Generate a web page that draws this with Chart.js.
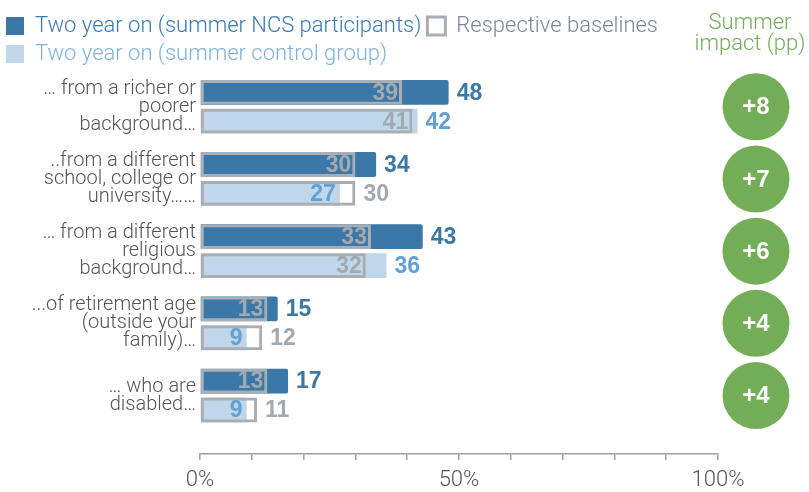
<!DOCTYPE html>
<html>
<head>
<meta charset="utf-8">
<script src="https://cdn.jsdelivr.net/npm/chart.js@4"></script>
<style>
  html, body { margin: 0; padding: 0; background: #fff; }
  #wrap { width: 809px; height: 492px; }
</style>
</head>
<body>
<div id="wrap"><canvas id="chart"></canvas></div>
<script>
const categories = [
  ['… from a richer or', 'poorer', 'background…'],
  ['..from a different', 'school, college or', 'university……'],
  ['… from a different', 'religious', 'background…'],
  ['...of retirement age', '(outside your', 'family)…'],
  ['… who are', 'disabled…']
]
const ncsTwoYear = [48, 34, 43, 15, 17]
const ncsBaseline = [39, 30, 33, 13, 13]
const controlTwoYear = [42, 27, 36, 9, 9]
const controlBaseline = [41, 30, 32, 12, 11]
const summerImpact = [8, 7, 6, 4, 4]
const labelledTicks = [0, 50, 100]

const NCS_BLUE = '#3b78a8'
const NCS_TEXT = '#3a7ab3'
const CTRL_FILL = '#bfd7e8'
const CTRL_TEXT = '#62a1d4'
const CTRL_LEGEND = '#80b2dc'
const BASE_LINE = '#a9aeb4'
const BASE_TEXT = '#a3a9b0'
const GREEN = '#74ad58'
const LIGHT = '"Roboto", "Liberation Sans", sans-serif'
const BOLD = '"Liberation Sans", Arial, sans-serif'

const points = (arr) => arr.map((v, i) => ({ x: v, y: i }))

// numbers next to / inside the bars
const valueLabels = {
  id: 'valueLabels',
  afterDatasetsDraw(chart) {
    const { ctx, scales: { x } } = chart
    const rows = [
      { meta: chart.getDatasetMeta(2), values: ncsTwoYear, base: ncsBaseline, color: NCS_BLUE },
      { meta: chart.getDatasetMeta(3), values: controlTwoYear, base: controlBaseline, color: CTRL_TEXT }
    ]
    ctx.save()
    ctx.font = 'bold 23px ' + BOLD
    ctx.textBaseline = 'middle'
    rows.forEach(r => {
      r.values.forEach((v, i) => {
        const b = r.base[i]
        const y = r.meta.data[i].y + 1
        const inner = Math.min(v, b)
        const outer = Math.max(v, b)
        ctx.textAlign = 'right'
        ctx.fillStyle = v < b ? r.color : BASE_TEXT
        ctx.fillText(inner, x.getPixelForValue(inner) - 4, y)
        ctx.textAlign = 'left'
        ctx.fillStyle = v > b ? r.color : BASE_TEXT
        ctx.fillText(outer, x.getPixelForValue(outer) + 8, y)
      })
    })
    ctx.restore()
  }
}

// green "summer impact" column on the right
const impactColumn = {
  id: 'impactColumn',
  afterDraw(chart) {
    const { ctx, chartArea, scales: { y } } = chart
    const cx = chartArea.right + 38
    ctx.save()
    ctx.fillStyle = GREEN
    ctx.font = '300 22px ' + LIGHT
    ctx.textAlign = 'center'
    ctx.textBaseline = 'middle'
    ctx.fillText('Summer', cx - 6, 23)
    ctx.fillText('impact (pp)', cx - 6, 44)
    summerImpact.forEach((v, i) => {
      const cy = y.getPixelForValue(i)
      ctx.beginPath()
      ctx.arc(cx, cy, 33.5, 0, Math.PI * 2)
      ctx.fillStyle = GREEN
      ctx.fill()
      ctx.fillStyle = '#fff'
      ctx.font = 'bold 24px ' + BOLD
      ctx.fillText('+' + v, cx, cy + 1)
    })
    ctx.restore()
  }
}

const barCommon = { categoryPercentage: 0.8, barPercentage: 0.86 }

new Chart(document.getElementById('chart'), {
  type: 'bar',
  data: {
    datasets: [
      {
        label: 'NCS baseline', data: points(ncsBaseline), stack: 'ncs', order: 0,
        backgroundColor: 'transparent', borderColor: BASE_LINE, borderWidth: 3, borderSkipped: false, ...barCommon
      },
      {
        label: 'Control baseline', data: points(controlBaseline), stack: 'ctl', order: 0,
        backgroundColor: 'transparent', borderColor: BASE_LINE, borderWidth: 3, borderSkipped: false, ...barCommon
      },
      {
        label: 'Two year on (summer NCS participants)', data: points(ncsTwoYear), stack: 'ncs', order: 1,
        backgroundColor: NCS_BLUE, borderRadius: 2, ...barCommon
      },
      {
        label: 'Two year on (summer control group)', data: points(controlTwoYear), stack: 'ctl', order: 1,
        backgroundColor: CTRL_FILL, ...barCommon
      }
    ]
  },
  options: {
    indexAxis: 'y',
    responsive: true,
    maintainAspectRatio: false,
    animation: false,
    layout: { padding: { top: 9, right: 91, bottom: -8, left: 0 } },
    scales: {
      x: {
        min: 0, max: 100, stacked: false,
        grid: { drawOnChartArea: false, tickLength: 6, color: '#a0a0a0', lineWidth: 1.5 },
        border: { color: '#a0a0a0', width: 1.5 },
        ticks: {
          stepSize: 10, autoSkip: false, maxRotation: 0, padding: 9,
          color: '#555', font: { family: LIGHT, size: 22, weight: '300', lineHeight: 1 },
          callback: (v) => labelledTicks.includes(v) ? v + '%' : ''
        }
      },
      y: {
        type: 'linear', reverse: true, offset: false,
        min: -0.44, max: 4.81,
        grid: { display: false, drawTicks: false },
        border: { display: false },
        afterFit: (s) => { s.width = 200 },
        ticks: {
          stepSize: 1, includeBounds: false, autoSkip: false, padding: 4,
          color: '#555', font: { family: LIGHT, size: 20, weight: '300', lineHeight: 0.9 },
          callback: (v) => categories[v]
        }
      }
    },
    plugins: {
      tooltip: { enabled: false },
      legend: {
        position: 'top', align: 'start',
        labels: {
          boxWidth: 18, boxHeight: 18, padding: 6,
          font: { family: LIGHT, size: 22, weight: '300' },
          generateLabels: () => [
            { text: 'Two year on (summer NCS participants)', fillStyle: NCS_BLUE, strokeStyle: NCS_BLUE, lineWidth: 0, fontColor: NCS_TEXT },
            { text: 'Respective baselines', fillStyle: '#fff', strokeStyle: BASE_LINE, lineWidth: 3, fontColor: '#7d8894' },
            { text: 'Two year on (summer control group)', fillStyle: CTRL_FILL, strokeStyle: CTRL_FILL, lineWidth: 0, fontColor: CTRL_LEGEND }
          ]
        }
      }
    }
  },
  plugins: [valueLabels, impactColumn]
})
</script>
</body>
</html>
